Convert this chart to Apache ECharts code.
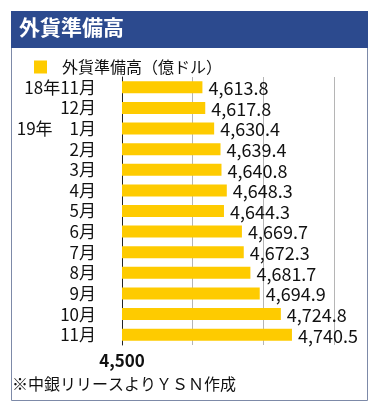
<!DOCTYPE html>
<html><head><meta charset="utf-8">
<script src="https://cdn.jsdelivr.net/npm/echarts@6/dist/echarts.min.js"></script>
<style>html,body{margin:0;padding:0;background:#fff}#c{width:384px;height:413px}</style>
</head><body><div id="c"></div>
<script>
var categories = ['18年11月','12月','19年　1月','2月','3月','4月','5月','6月','7月','8月','9月','10月','11月'];
var values = [4613.8,4617.8,4630.4,4639.4,4640.8,4648.3,4644.3,4669.7,4672.3,4681.7,4694.9,4724.8,4740.5];
var seriesName = '外貨準備高（億ドル）';
var titleText = '外貨準備高';
var noteText = '※中銀リリースよりＹＳＮ作成';
var F = '"Noto Sans CJK JP", "Noto Sans", sans-serif';
var chart = echarts.init(document.getElementById('c'), null, {renderer:'canvas'});
chart.setOption({
  animation:false,
  textStyle:{fontFamily:F},
  graphic:[
    {type:'rect', shape:{x:11.5,y:11.5,width:356,height:389}, style:{fill:'#fff', stroke:'#7d8aa8', lineWidth:1}, z:-10},
    {type:'rect', shape:{x:11,y:11,width:357,height:37}, style:{fill:'#2c4a8e'}, z:-5},
    {type:'text', left:19, top:17, style:{text:titleText, fill:'#fff', font:'bold 21px '+F}},
    {type:'text', left:12, top:376, style:{text:noteText, fill:'#111', font:'16px '+F}}
  ],
  legend:{left:29, top:54, itemWidth:13, itemHeight:13, icon:'rect',
    textStyle:{fontSize:16, color:'#111', padding:[0,0,0,10], fontFamily:F},
    data:[seriesName]},
  grid:{left:122, right:50, top:77, bottom:68, containLabel:false},
  xAxis:{type:'value', min:4500, max:4800, interval:100,
    axisLine:{show:false}, axisTick:{show:false},
    splitLine:{show:true, lineStyle:{color:'#b5b5b5', width:1}},
    axisLabel:{margin:7, color:'#111', fontWeight:'bold', fontSize:17, fontFamily:F,
      formatter:function(v){return v===4500?'4,500':'';}}},
  yAxis:{type:'category', inverse:true, data:categories,
    axisLine:{show:true, lineStyle:{color:'#222', width:1}}, axisTick:{show:false},
    axisLabel:{interval:0, margin:26, color:'#111', fontSize:17, fontFamily:F}},
  series:[{name:seriesName, type:'bar', data:values, barWidth:12,
    itemStyle:{color:'#fecb00'},
    label:{show:true, position:'right', distance:6, color:'#111', fontSize:18, offset:[0,1], fontFamily:F,
      formatter:function(p){return p.value.toLocaleString('en-US',{minimumFractionDigits:1,maximumFractionDigits:1});}}}]
});
</script></body></html>
